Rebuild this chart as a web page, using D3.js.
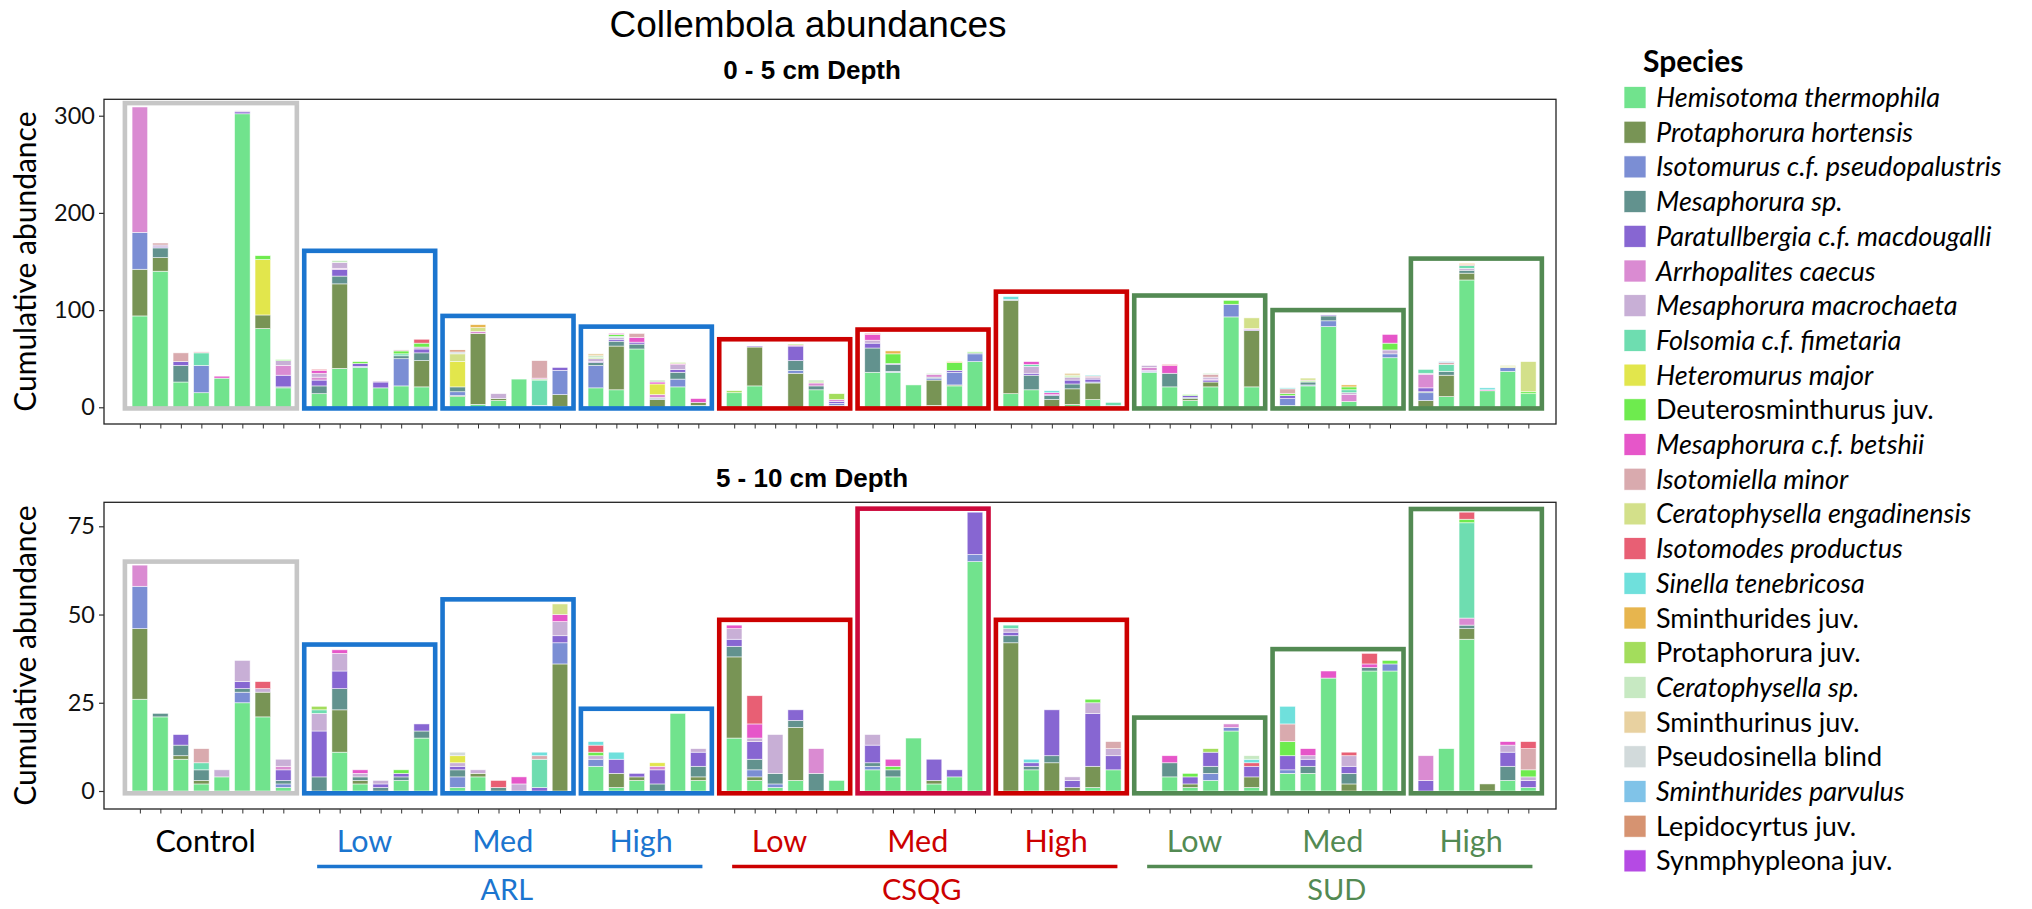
<!DOCTYPE html>
<html>
<head>
<meta charset="utf-8">
<script src="https://cdn.jsdelivr.net/npm/d3@7"></script>
<style>
  body { margin: 0; background: #fff; }
  svg { display: block; }
</style>
</head>
<body>
<svg id="chart" width="2032" height="909"></svg>
<script>
// ---- Species (stacking order, bottom to top) ----
const speciesKeys = ["H","Ph","Ip","Ms","Pm","Ac","Mm","Ff","Hm","Dj","Mb","Im","Ce","Ipr","St","Sj","Pj","Cs","Snj","Pb","Sp","Lj","Sy"];
const speciesNames = [
  "Hemisotoma thermophila", "Protaphorura hortensis", "Isotomurus c.f. pseudopalustris",
  "Mesaphorura sp.", "Paratullbergia c.f. macdougalli", "Arrhopalites caecus",
  "Mesaphorura macrochaeta", "Folsomia c.f. fimetaria", "Heteromurus major",
  "Deuterosminthurus juv.", "Mesaphorura c.f. betshii", "Isotomiella minor",
  "Ceratophysella engadinensis", "Isotomodes productus", "Sinella tenebricosa",
  "Sminthurides juv.", "Protaphorura juv.", "Ceratophysella sp.", "Sminthurinus juv.",
  "Pseudosinella blind", "Sminthurides parvulus", "Lepidocyrtus juv.", "Synmphypleona juv."
];
const speciesItalic = [true,true,true,true,true,true,true,true,true,false,true,true,true,true,true,false,false,true,false,false,true,false,false];
const speciesColors = [
  "#71e38d", "#789455", "#7b8ed4", "#62928e", "#8766d2", "#da8bd2",
  "#c8afd6", "#6eddb0", "#e2e64c", "#6eeb4e", "#e656c9", "#d9aaae",
  "#d3e08a", "#e85f74", "#6fe0dc", "#e7b54e", "#a3dd5c", "#c7e9c2",
  "#e8d1a0", "#d2dadb", "#80c3e8", "#d69371", "#b54ae4"
];

// ---- Groups ----
const groupTreatment = ["Control","ARL","ARL","ARL","CSQG","CSQG","CSQG","SUD","SUD","SUD"];
const groupLevel     = ["Control","Low","Med","High","Low","Med","High","Low","Med","High"];
const treatmentColor = { Control: "#c6c6c6", ARL: "#1b75cf", CSQG: "#cc0000", SUD: "#538a53" };
const labelColor     = { Control: "#000000", ARL: "#1b75cf", CSQG: "#cc0000", SUD: "#538a53" };

// ---- 0 - 5 cm depth: individuals per sample ----
const d05_Control = [
  {H:94, Ph:48, Ip:38, Ac:129},
  {H:140, Ph:14, Ms:10, Pm:1, Mm:2, Im:2},
  {H:26, Ms:17, Pm:4, Im:9},
  {H:15, Ip:28, Ff:13, Im:1},
  {H:30, Mb:2},
  {H:302, Pm:2, Mm:1},
  {H:81, Ph:14, Hm:57, Dj:4},
  {H:20, Ms:1, Pm:12, Ac:10, Mm:5, Dj:1}
];
const d05_ARL_Low = [
  {H:14, Ms:8, Pm:6, Ac:3, Mm:4, Mb:3, Ipr:1},
  {H:40, Ph:87, Ms:8, Pm:7, Ac:1, Mm:6, Cs:2},
  {H:41, Ip:1, Pm:3, Dj:2},
  {H:20, Pm:6, Mm:1},
  {H:22, Ip:28, Ms:3, Ff:2, Dj:3, Im:1},
  {H:21, Ph:27, Ms:8, Pm:4, Mm:2, Dj:4, Ipr:4}
];
const d05_ARL_Med = [
  {H:11, Ph:1, Ip:4, Ms:5, Hm:26, Ce:8, Pb:2, Lj:2},
  {H:3, Ph:73, Ac:2, Ce:4, Sj:3},
  {H:7, Ph:2, Mm:5},
  {H:29},
  {H:1, Ip:1, Ff:26, Dj:1, Mb:1, Im:18},
  {H:1, Ph:12, Ip:25, Pm:3}
];
const d05_ARL_High = [
  {H:20, Ip:23, Ms:3, Pm:1, Mm:3, Pj:1, Cs:2, Snj:2},
  {H:18, Ph:45, Ms:5, Pm:2, Mm:2, Ff:1, Dj:2, Mb:1},
  {H:60, Ms:5, Pm:2, Mb:5, Im:4},
  {Ph:8, Ip:1, Ms:1, Ac:3, Hm:11, Mb:2, Cs:2},
  {H:21, Ip:8, Ms:7, Pm:3, Mm:5, Mb:1, Pj:1},
  {H:2, Ph:3, Mb:4}
];
const d05_CSQG_Low = [
  {H:15, Pj:2},
  {H:22, Ph:40, Pm:1},
  {},
  {Ph:35, Ip:3, Ms:10, Pm:15, Mb:1, Pj:1},
  {H:18, Ms:4, Ac:3, Pj:1, Cs:2},
  {Ph:2, Ip:2, Pm:2, Ac:2, Pj:6}
];
const d05_CSQG_Med = [
  {H:36, Ms:25, Pm:5, Mm:3, Mb:6, Ipr:1},
  {H:36, Ip:1, Ms:7, Pm:1, Dj:10, Sj:3},
  {H:23},
  {H:2, Ph:26, Ip:2, Ms:1, Ac:3, Cs:1},
  {H:22, Ph:1, Ip:13, Pm:2, Dj:8, Sj:1},
  {H:47, Ip:8, Ms:1, Dj:1}
];
const d05_CSQG_High = [
  {H:14, Ph:96, Ms:1, St:3},
  {H:18, Ms:15, Pm:2, Mm:7, Ff:2, Mb:3},
  {Ph:8, Ms:4, Pm:1, Mb:2, St:2},
  {H:3, Ph:16, Ms:5, Pm:4, Mm:3, Dj:1, Pj:1, Snj:2},
  {H:8, Ph:17, Ip:1, Pm:3, Mm:2, Ipr:1, St:1},
  {H:1, Ms:1, Ff:3}
];
const d05_SUD_Low = [
  {H:36, Ip:1, Pm:1, Ac:3, Mm:2},
  {H:21, Ms:14, Mb:8, Ipr:1},
  {H:7, Ph:2, Ms:1, Pm:2, Dj:1},
  {H:21, Ph:5, Pm:2, Ac:1, Mm:2, Im:3, Cs:1},
  {H:93, Ip:13, Dj:4},
  {H:21, Ph:58, Pm:1, Ac:1, Ce:11}
];
const d05_SUD_Med = [
  {H:2, Ip:7, Pm:3, Dj:2, Im:5, St:1},
  {H:22, Ip:1, Ms:3, Dj:1, Im:1, Ce:2},
  {H:83, Ip:6, Ms:5, Pm:1},
  {H:6, Ac:7, Mm:2, Ff:3, Dj:3, Sj:2},
  {},
  {H:51, Ip:4, Mm:4, Dj:7, Mb:9}
];
const d05_SUD_High = [
  {Ph:7, Ip:8, Ms:1, Pm:4, Ac:14, Mm:1, Ff:4},
  {H:11, Ph:22, Ms:4, Ff:7, Im:2, Sp:1},
  {H:131, Ph:7, Ms:3, Mm:2, Ff:3, Ipr:1, Sj:1},
  {H:17, Mb:1, St:2},
  {H:37, Ip:4, Hm:1, Ce:1},
  {H:14, Dj:2, Ce:31}
];

// ---- 5 - 10 cm depth: individuals per sample ----
const d510_Control = [
  {H:26, Ph:20, Ip:12, Ac:6},
  {H:21, Ms:1},
  {H:9, Ph:1, Ms:3, Pm:3},
  {H:2, Ph:1, Ms:3, Ff:2, Im:4},
  {H:4, Mm:2},
  {H:25, Ip:3, Ms:1, Pm:2, Mm:6},
  {H:21, Ph:7, Mm:1, Ipr:2},
  {H:1, Ip:1, Ms:1, Pm:3, Ac:1, Mm:2}
];
const d510_ARL_Low = [
  {Ms:4, Pm:13, Mm:5, Ff:1, Pj:1},
  {H:11, Ph:12, Ms:6, Pm:5, Mm:5, Mb:1},
  {H:2, Ph:1, Ms:1, Mm:1, Mb:1},
  {Ms:1, Pm:1, Mm:1},
  {H:3, Ms:1, Pm:1, Dj:1},
  {H:15, Ms:2, Pm:2}
];
const d510_ARL_Med = [
  {H:1, Ip:3, Ms:2, Pm:1, Mm:1, Hm:2, Pb:1},
  {H:4, Ph:1, Mm:1},
  {Ms:1, Ipr:2},
  {Mm:2, Mb:2},
  {Pm:1, Ff:8, Im:1, St:1},
  {Ph:36, Ip:6, Pm:2, Mm:4, Mb:2, Ce:3}
];
const d510_ARL_High = [
  {H:7, Ip:2, Mm:1, Dj:1, Ipr:2, St:1},
  {H:1, Ph:4, Pm:4, St:2},
  {H:3, Ph:1, Pm:1},
  {Ms:2, Pm:4, Ac:1, Hm:1},
  {H:22},
  {H:3, Ph:1, Ms:3, Pm:4, Mm:1}
];
const d510_CSQG_Low = [
  {H:15, Ph:23, Ms:3, Pm:2, Mm:3, Mb:1},
  {H:3, Ph:1, Ip:2, Ms:3, Pm:5, Mm:1, Mb:4, Ipr:8},
  {H:1, Ip:1, Ms:3, Mm:11},
  {H:3, Ph:15, Ms:2, Pm:3},
  {Ms:5, Ac:7},
  {H:3}
];
const d510_CSQG_Med = [
  {H:6, Ip:1, Ms:1, Pm:5, Mm:3},
  {H:4, Ms:2, Dj:1, Mb:2},
  {H:15},
  {H:2, Ph:1, Pm:6},
  {H:4, Pm:2},
  {H:65, Ip:2, Pm:12}
];
const d510_CSQG_High = [
  {Ph:42, Ms:2, Pm:1, Mm:1, Ff:1},
  {H:6, Ms:1, Pm:1, St:1},
  {Ph:8, Ms:2, Pm:13},
  {Ph:1, Pm:2, Mm:1},
  {H:1, Ph:6, Pm:15, Mm:3, Dj:1},
  {H:6, Pm:4, Mm:2, Im:2}
];
const d510_SUD_Low = [
  {},
  {H:4, Ms:4, Mb:2},
  {H:1, Ph:1, Pm:2, Dj:1},
  {H:3, Ip:2, Ms:2, Pm:4, Pj:1},
  {H:17, Ip:1, Ac:1},
  {H:1, Ph:3, Pm:3, Ipr:1, St:1, Cs:1}
];
const d510_SUD_Med = [
  {H:5, Ip:1, Pm:4, Dj:4, Im:5, St:5},
  {H:5, Ms:2, Pm:2, Mm:1, Mb:2},
  {H:32, Mb:2},
  {Ph:2, Ms:3, Pm:2, Mm:3, Ipr:1},
  {H:34, Ms:1, Mb:1, Ipr:3},
  {H:34, Ip:2, Dj:1}
];
const d510_SUD_High = [
  {Pm:3, Ac:7},
  {H:12},
  {H:43, Ph:3, Ms:1, Ac:2, Ff:27, Dj:1, Ipr:2},
  {Ph:2},
  {H:3, Ms:4, Pm:4, Mm:2, Mb:1},
  {H:1, Pm:2, Mm:1, Dj:2, Im:6, Ipr:2}
];

// Highlight frame tops (abundance units), one per group
const frameTopShallow = [313, 161, 94, 83, 70, 80, 119, 115, 100, 153];
const frameTopDeep    = [65, 41.5, 54.3, 23.3, 48.5, 80, 48.5, 20.8, 40.2, 79.9];

const shallowTicks = [0, 100, 200, 300];
const deepTicks    = [0, 25, 50, 75];

const shallowGroups = [d05_Control, d05_ARL_Low, d05_ARL_Med, d05_ARL_High, d05_CSQG_Low, d05_CSQG_Med, d05_CSQG_High, d05_SUD_Low, d05_SUD_Med, d05_SUD_High];
const deepGroups    = [d510_Control, d510_ARL_Low, d510_ARL_Med, d510_ARL_High, d510_CSQG_Low, d510_CSQG_Med, d510_CSQG_High, d510_SUD_Low, d510_SUD_Med, d510_SUD_High];

// ---- Layout ----
const svg = d3.select("#chart");
const LEFT = 104, RIGHT = 1556;
const GROUP_GAP = 1.75;   // spacing (in sample slots) between consecutive groups
const BAR_W = 0.76;       // bar width in slots

// Sample slot positions along the x axis
const groupSlots = [];
{
  let next = 0;
  shallowGroups.forEach(g => {
    const s = g.map((_, j) => next + j);
    groupSlots.push(s);
    next = s[s.length - 1] + GROUP_GAP;
  });
}
const allSlots = groupSlots.flat();

const x = d3.scaleLinear().domain([-1.75, 69.1]).range([LEFT, RIGHT]);
const slotPx = x(1) - x(0);

const panels = [
  { groups: shallowGroups, domain: [-17.2, 316.9], top: 99.3, bottom: 424, ticks: shallowTicks,
    title: "0 - 5 cm Depth", titleY: 79, frameTop: frameTopShallow, frameBottom: -1.2,
    frameColor: i => treatmentColor[groupTreatment[i]] },
  { groups: deepGroups, domain: [-5.1, 81.8], top: 502.3, bottom: 809, ticks: deepTicks,
    title: "5 - 10 cm Depth", titleY: 487, frameTop: frameTopDeep, frameBottom: -0.65,
    frameColor: i => (i === 5 ? "#cc0a3c" : treatmentColor[groupTreatment[i]]) }
];

const FONT = "Lato, 'Open Sans', sans-serif";

// Main title
svg.append("text")
  .attr("x", 808).attr("y", 37)
  .attr("text-anchor", "middle")
  .style("font-family", "'Liberation Sans', Arial, sans-serif")
  .style("font-size", "37px")
  .attr("fill", "#000")
  .text("Collembola abundances");

panels.forEach(p => {
  const y = d3.scaleLinear().domain(p.domain).range([p.bottom, p.top]);
  const g = svg.append("g");

  // Panel subtitle
  g.append("text")
    .attr("x", 812).attr("y", p.titleY)
    .attr("text-anchor", "middle")
    .style("font-family", "'Liberation Sans', Arial, sans-serif")
    .style("font-weight", "bold")
    .style("font-size", "26px")
    .attr("fill", "#000")
    .text(p.title);

  // Stacked bars
  p.groups.forEach((samples, gi) => {
    samples.forEach((sample, si) => {
      const cx = x(groupSlots[gi][si]);
      let cum = 0;
      speciesKeys.forEach((k, ki) => {
        const v = sample[k] || 0;
        if (!v) return;
        g.append("rect")
          .attr("x", cx - BAR_W * slotPx / 2)
          .attr("width", BAR_W * slotPx)
          .attr("y", y(cum + v))
          .attr("height", y(cum) - y(cum + v))
          .attr("fill", speciesColors[ki])
          .attr("stroke", "#ffffff")
          .attr("stroke-opacity", 0.75)
          .attr("stroke-width", 0.7);
        cum += v;
      });
    });
  });

  // Group frames
  p.frameTop.forEach((t, gi) => {
    const s = groupSlots[gi];
    const x0 = x(s[0]) - 0.73 * slotPx;
    const x1 = x(s[s.length - 1]) + 0.66 * slotPx;
    g.append("rect")
      .attr("x", x0).attr("y", y(t))
      .attr("width", x1 - x0).attr("height", y(p.frameBottom) - y(t))
      .attr("fill", "none")
      .attr("stroke", p.frameColor(gi))
      .attr("stroke-width", 4.6);
  });

  // Panel border
  g.append("rect")
    .attr("x", LEFT).attr("y", p.top)
    .attr("width", RIGHT - LEFT).attr("height", p.bottom - p.top)
    .attr("fill", "none").attr("stroke", "#222").attr("stroke-width", 1.3);

  // Y axis
  const ya = g.append("g").attr("transform", `translate(${LEFT},0)`)
    .call(d3.axisLeft(y).tickValues(p.ticks).tickSize(5).tickPadding(4).tickFormat(d3.format("d")));
  ya.select(".domain").remove();
  ya.selectAll("line").attr("stroke", "#333").attr("stroke-width", 1.2);
  ya.selectAll("text")
    .style("font-family", FONT).style("font-size", "23.5px").attr("fill", "#111");

  // X axis ticks (one per sample)
  const xa = g.append("g").attr("transform", `translate(0,${p.bottom})`)
    .call(d3.axisBottom(x).tickValues(allSlots).tickSize(4.5).tickFormat(""));
  xa.select(".domain").remove();
  xa.selectAll("line").attr("stroke", "#333").attr("stroke-width", 1);

  // Y axis title
  g.append("text")
    .attr("transform", `translate(36,${(p.top + p.bottom) / 2}) rotate(-90)`)
    .attr("text-anchor", "middle")
    .style("font-family", FONT).style("font-size", "30px")
    .attr("fill", "#000")
    .text("Cumulative abundance");
});

// ---- Treatment / level labels under the lower panel ----
const groupCenter = gi => {
  const s = groupSlots[gi];
  return x((s[0] + s[s.length - 1]) / 2);
};
const lab = svg.append("g");
groupLevel.forEach((lvl, gi) => {
  lab.append("text")
    .attr("x", groupCenter(gi) - 6).attr("y", 852)
    .attr("text-anchor", "middle")
    .style("font-family", FONT).style("font-size", "30.5px")
    .attr("fill", labelColor[groupTreatment[gi]])
    .text(lvl);
});
["ARL", "CSQG", "SUD"].forEach(t => {
  const idx = groupTreatment.map((d, i) => d === t ? i : -1).filter(i => i >= 0);
  const first = groupSlots[idx[0]][0];
  const lastG = groupSlots[idx[idx.length - 1]];
  const last = lastG[lastG.length - 1];
  lab.append("line")
    .attr("x1", x(first - 0.1)).attr("x2", x(last + 0.2))
    .attr("y1", 866.5).attr("y2", 866.5)
    .attr("stroke", labelColor[t]).attr("stroke-width", 3.4);
  lab.append("text")
    .attr("x", groupCenter(idx[1]) - 2).attr("y", 900)
    .attr("text-anchor", "middle")
    .style("font-family", FONT).style("font-size", "29px")
    .attr("fill", labelColor[t])
    .text(t);
});

// ---- Legend ----
const leg = svg.append("g");
leg.append("text")
  .attr("x", 1643).attr("y", 71.5)
  .style("font-family", FONT).style("font-weight", "bold").style("font-size", "30px")
  .attr("fill", "#000")
  .text("Species");
speciesNames.forEach((name, i) => {
  const cy = 97.5 + i * 34.7;
  leg.append("rect")
    .attr("x", 1624).attr("y", cy - 11)
    .attr("width", 22).attr("height", 22)
    .attr("fill", speciesColors[i])
    .attr("stroke", "#fff").attr("stroke-width", 0.7);
  leg.append("text")
    .attr("x", 1656).attr("y", cy + 9.5)
    .style("font-family", FONT).style("font-size", "27px")
    .style("font-style", speciesItalic[i] ? "italic" : "normal")
    .attr("fill", "#000")
    .text(name);
});
</script>
</body>
</html>
